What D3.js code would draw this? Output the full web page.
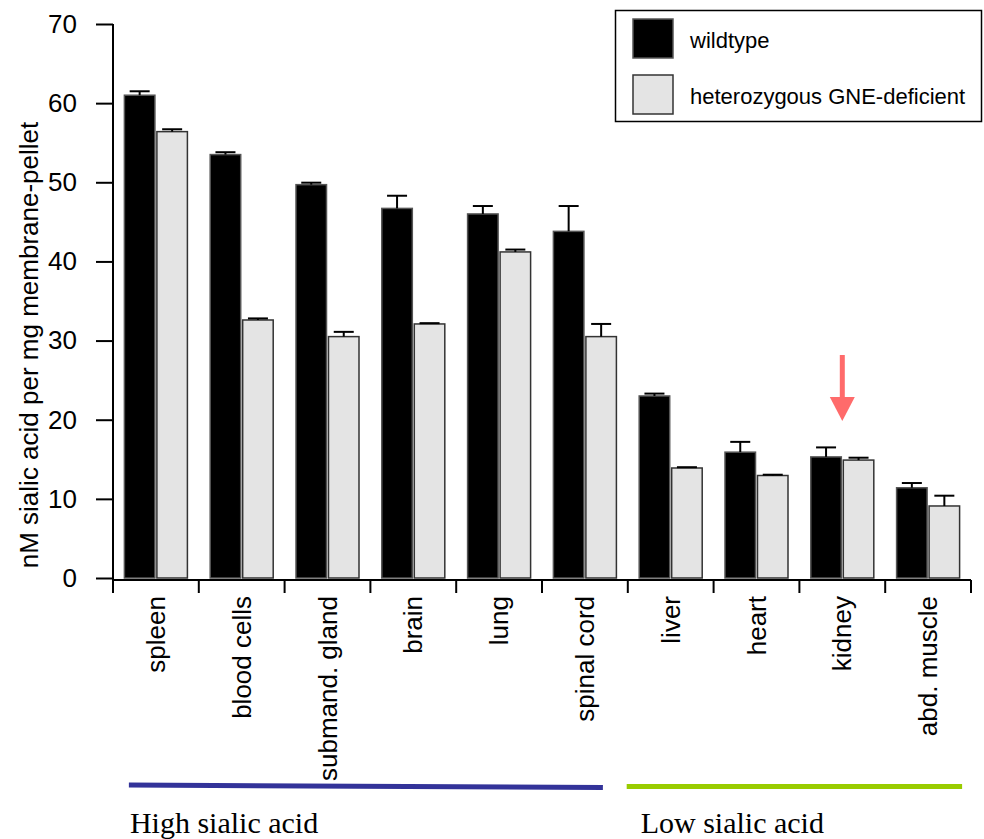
<!DOCTYPE html>
<html>
<head>
<meta charset="utf-8">
<script src="https://cdn.jsdelivr.net/npm/d3@7"></script>
<style>
  body { margin: 0; background: #fff; }
  svg { display: block; font-family: "Liberation Sans", Arial, Helvetica, sans-serif; }
</style>
</head>
<body>
<div class="container"></div>
<script>
'use strict';

// tissues, left to right
const organs = ['spleen', 'blood cells', 'submand. gland', 'brain', 'lung',
  'spinal cord', 'liver', 'heart', 'kidney', 'abd. muscle'];
const series = ['wildtype', 'heterozygous GNE-deficient'];

// nM sialic acid per mg membrane-pellet (mean, upper error)
const wildtype = [61.0, 53.5, 49.7, 46.7, 46.0, 43.8, 23.0, 15.9, 15.3, 11.4];
const wildtypeErr = [0.5, 0.3, 0.25, 1.6, 1.0, 3.2, 0.3, 1.3, 1.2, 0.6];
const hetero = [56.4, 32.6, 30.5, 32.1, 41.2, 30.5, 13.9, 12.95, 14.9, 9.1];
const heteroErr = [0.3, 0.2, 0.6, 0.1, 0.3, 1.6, 0.1, 0.1, 0.3, 1.3];

const yTicks = [0, 10, 20, 30, 40, 50, 60, 70];
const groups = [
  { name: 'High sialic acid', from: 'spleen', to: 'spinal cord', color: '#333399' },
  { name: 'Low sialic acid', from: 'liver', to: 'abd. muscle', color: '#99cc00' }
];
const highlight = 'kidney';

const colors = { 'wildtype': '#000000', 'heterozygous GNE-deficient': '#e4e4e4' };
const strokes = { 'wildtype': '#555555', 'heterozygous GNE-deficient': '#333333' };

(function () {
  const width = 984, height = 839;
  const left = 113, right = 971, top = 24, base = 578;

  const svg = d3.select('.container').append('svg')
    .attr('width', width)
    .attr('height', height);

  const y = d3.scaleLinear().domain([0, 70]).range([base, top]);

  const x0 = d3.scaleBand().domain(organs).range([left, right])
    .paddingInner(0.254).paddingOuter(0.127);
  const x1 = d3.scaleBand().domain(series).range([0, x0.bandwidth()])
    .paddingInner(0.03);
  const step = x0.step();

  const rows = organs.map((o, i) => ({
    organ: o,
    vals: [
      { key: series[0], v: wildtype[i], e: wildtypeErr[i] },
      { key: series[1], v: hetero[i], e: heteroErr[i] }
    ]
  }));

  // bars
  const g = svg.append('g').selectAll('g')
    .data(rows)
    .enter().append('g')
    .attr('transform', d => 'translate(' + x0(d.organ) + ',0)');

  g.selectAll('rect')
    .data(d => d.vals)
    .enter().append('rect')
    .attr('x', d => x1(d.key) + 0.5)
    .attr('y', d => y(d.v))
    .attr('width', x1.bandwidth() - 1)
    .attr('height', d => y(0) - y(d.v))
    .attr('fill', d => colors[d.key])
    .attr('stroke', d => strokes[d.key])
    .attr('stroke-width', 1.5);

  // error bars (upper only)
  const eb = g.selectAll('g.err')
    .data(d => d.vals)
    .enter().append('g')
    .attr('class', 'err')
    .attr('stroke', '#000')
    .attr('stroke-width', 2);
  eb.append('line')
    .attr('x1', d => x1(d.key) + x1.bandwidth() / 2)
    .attr('x2', d => x1(d.key) + x1.bandwidth() / 2)
    .attr('y1', d => y(d.v))
    .attr('y2', d => y(d.v + d.e));
  eb.append('line')
    .attr('x1', d => x1(d.key) + x1.bandwidth() / 2 - 10)
    .attr('x2', d => x1(d.key) + x1.bandwidth() / 2 + 10)
    .attr('y1', d => y(d.v + d.e))
    .attr('y2', d => y(d.v + d.e));

  // y axis with minor ticks
  const yAxis = svg.append('g').attr('transform', 'translate(' + left + ',0)');
  yAxis.call(d3.axisLeft(y).tickValues(d3.range(0, 71, 2)).tickSize(8).tickFormat(''));
  yAxis.call(d3.axisLeft(y).tickValues(yTicks).tickSize(17).tickPadding(19))
    .call(a => a.select('.domain').remove());
  yAxis.selectAll('line').attr('stroke-width', 2);
  yAxis.selectAll('.domain').attr('stroke-width', 2);
  yAxis.selectAll('text')
    .attr('font-size', 26)
    .attr('fill', '#000');
  yAxis.append('line')
    .attr('x1', 0).attr('x2', 0)
    .attr('y1', top).attr('y2', base + 15)
    .attr('stroke', '#000').attr('stroke-width', 2);

  // x axis: ticks on the band boundaries
  const xAxis = svg.append('g').attr('transform', 'translate(0,' + (base + 2) + ')');
  xAxis.append('line')
    .attr('x1', left).attr('x2', right)
    .attr('stroke', '#000').attr('stroke-width', 2);
  xAxis.selectAll('line.tick')
    .data(d3.range(organs.length + 1))
    .enter().append('line')
    .attr('class', 'tick')
    .attr('x1', i => left + i * step).attr('x2', i => left + i * step)
    .attr('y1', 0).attr('y2', 13)
    .attr('stroke', '#000').attr('stroke-width', 2);
  xAxis.selectAll('text')
    .data(organs)
    .enter().append('text')
    .attr('transform', d => 'translate(' + (x0(d) + x0.bandwidth() / 2) + ',16) rotate(-90)')
    .attr('text-anchor', 'end')
    .attr('dominant-baseline', 'central')
    .attr('font-size', 26)
    .text(d => d);

  // y axis title
  svg.append('text')
    .attr('transform', 'translate(29,345) rotate(-90)')
    .attr('text-anchor', 'middle')
    .attr('dominant-baseline', 'central')
    .attr('font-size', 26)
    .text('nM sialic acid per mg membrane-pellet');

  // group brackets (the drawn lines don't line up exactly with the bands)
  const lineFrom = [5, -12], lineTo = [-14, 2], textFrom = [6, 2];
  const gr = svg.append('g').selectAll('g')
    .data(groups)
    .enter().append('g');
  gr.append('line')
    .attr('x1', (d, i) => x0(d.from) + lineFrom[i])
    .attr('x2', (d, i) => x0(d.to) + x0.bandwidth() + lineTo[i])
    .attr('y1', (d, i) => i === 0 ? 785 : 786.5)
    .attr('y2', (d, i) => i === 0 ? 787.5 : 786.5)
    .attr('stroke', d => d.color)
    .attr('stroke-width', 5);
  gr.append('text')
    .attr('x', (d, i) => x0(d.from) + textFrom[i])
    .attr('y', 833)
    .attr('font-family', '"Liberation Serif", "Times New Roman", serif')
    .attr('font-size', 30)
    .text(d => d.name);

  // arrow over the highlighted tissue
  const ax = x0(highlight) + x0.bandwidth() / 2;
  const arrow = svg.append('g').attr('fill', '#ff6b6b');
  arrow.append('rect')
    .attr('x', ax - 2.5).attr('y', 355)
    .attr('width', 5).attr('height', 43);
  arrow.append('path')
    .attr('d', 'M' + (ax - 12.5) + ',397L' + (ax + 12.5) + ',397L' + ax + ',421Z');

  // legend
  const lg = svg.append('g');
  lg.append('rect')
    .attr('x', 615.5).attr('y', 10.5)
    .attr('width', 366).attr('height', 111)
    .attr('fill', '#fff').attr('stroke', '#000').attr('stroke-width', 1.5);
  const li = lg.selectAll('g')
    .data(series)
    .enter().append('g')
    .attr('transform', (d, i) => 'translate(633,' + (19 + i * 56) + ')');
  li.append('rect')
    .attr('width', 40).attr('height', 39)
    .attr('fill', d => colors[d])
    .attr('stroke', d => strokes[d])
    .attr('stroke-width', 1.5);
  li.append('text')
    .attr('x', 57).attr('y', 21)
    .attr('dominant-baseline', 'central')
    .attr('font-size', 22)
    .text(d => d);
})();
</script>
</body>
</html>
